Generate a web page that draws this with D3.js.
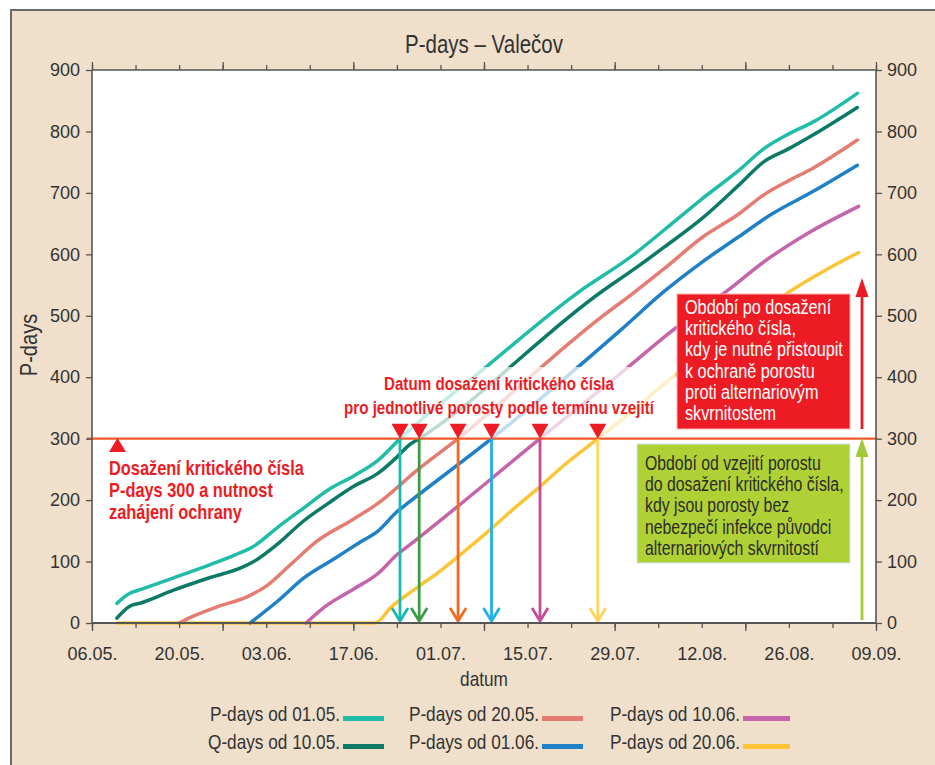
<!DOCTYPE html>
<html><head><meta charset="utf-8">
<script src="https://cdn.jsdelivr.net/npm/d3@7"></script>
<style>
html,body{margin:0;padding:0;background:#fff;}
svg{display:block;}
</style></head>
<body>
<svg id="chart" width="935" height="765"></svg>
<script>
// ---------------- DATA ----------------
const seriesNames = ["P-days od 01.05.", "Q-days od 10.05.", "P-days od 20.05.", "P-days od 01.06.", "P-days od 10.06.", "P-days od 20.06."];
const seriesColors = ["#1fbda8", "#0b7a66", "#e57b71", "#1e80c6", "#c563ab", "#fcc536"];

const dates0105 = ["2021-05-10","2021-05-12","2021-05-14","2021-05-19","2021-05-25","2021-05-29","2021-06-01","2021-06-05","2021-06-09","2021-06-13","2021-06-17","2021-06-21","2021-06-24T12:00","2021-07-08","2021-07-23","2021-08-01","2021-08-06","2021-08-12","2021-08-18","2021-08-22","2021-08-26","2021-08-30","2021-09-06"];
const vals0105  = [32,48,55,73,95,111,125,157,187,217,239,265,300,414,537,599,640,690,737,772,796,816,862];

const dates1005 = ["2021-05-10","2021-05-12","2021-05-14","2021-05-19","2021-05-25","2021-05-30","2021-06-01","2021-06-05","2021-06-09","2021-06-13","2021-06-17","2021-06-21","2021-06-24","2021-06-26","2021-06-27T14:00","2021-07-27","2021-08-01","2021-08-06","2021-08-12","2021-08-18","2021-08-22","2021-08-26","2021-08-30","2021-09-06"];
const vals1005  = [8,27,33,53,74,90,100,130,166,195,222,244,270,290,300,540,575,612,658,713,751,772,795,839];

const dates2005 = ["2021-05-20","2021-05-22","2021-05-26","2021-05-31","2021-06-03","2021-06-07","2021-06-11","2021-06-17","2021-06-21","2021-06-24","2021-06-26","2021-07-03T20:00","2021-07-27","2021-08-01","2021-08-06","2021-08-12","2021-08-18","2021-08-22","2021-08-26","2021-08-30","2021-09-06"];
const vals2005  = [0,10,26,43,60,96,132,169,195,220,238,300,499,537,577,627,666,697,720,741,786];

const dates0106 = ["2021-05-31T10:00","2021-06-05","2021-06-09","2021-06-14","2021-06-18","2021-06-21","2021-06-24","2021-06-26","2021-07-09T05:00","2021-07-30","2021-08-06","2021-08-12","2021-08-18","2021-08-23","2021-08-30","2021-09-06"];
const vals0106  = [0,37,73,105,131,150,181,197,300,477,540,587,629,664,703,745];

const dates1006 = ["2021-06-09T10:00","2021-06-12T12:00","2021-06-17","2021-06-21","2021-06-24","2021-06-26T10:00","2021-07-17","2021-07-31","2021-08-07T10:00","2021-08-16","2021-08-22T10:00","2021-08-29","2021-09-06T05:00"];
const vals1006  = [0,27,55,81,111,130,300,415,477,540,591,634,678];

const dates2006 = ["2021-05-10","2021-06-20T12:00","2021-06-23","2021-06-27","2021-07-01","2021-07-05","2021-07-09","2021-07-13","2021-07-17","2021-07-21","2021-07-26T07:00","2021-07-31","2021-08-07T10:00","2021-08-14","2021-08-20","2021-08-26T05:00","2021-09-01","2021-09-06T05:00"];
const vals2006  = [0,0,25,56,85,118,152,188,222,258,300,338,401,450,495,540,575,603];

// dates when the critical number 300 is reached (one per crop)
const critDates = ["2021-06-24T12:00","2021-06-27T14:00","2021-07-03T20:00","2021-07-09T05:00","2021-07-17","2021-07-26T07:00"];
const critArrowColors = ["#17b9b3", "#3f9a46", "#f26a22", "#20b0e8", "#c54b9d", "#ffd35e"];
const criticalValue = 300;

const xTickLabels = ["06.05.","20.05.","03.06.","17.06.","01.07.","15.07.","29.07.","12.08.","26.08.","09.09."];
const yTicks = [0,100,200,300,400,500,600,700,800,900];

const titleText = "P-days – Valečov";
const yLabel = "P-days";
const xLabel = "datum";
const noteLeft = ["Dosažení kritického čísla","P-days 300 a nutnost","zahájení ochrany"];
const noteTop = ["Datum dosažení kritického čísla","pro jednotlivé porosty podle termínu vzejití"];
const noteRed = ["Období po dosažení","kritického čísla,","kdy je nutné přistoupit","k ochraně porostu","proti alternariovým","skvrnitostem"];
const noteGreen = ["Období od vzejití porostu","do dosažení kritického čísla,","kdy jsou porosty bez","nebezpečí infekce původci","alternariových skvrnitostí"];

// ---------------- DRAW ----------------
const FR = "'Liberation Sans',Arial,sans-serif";
const SX = 0.82;   // condensed look
const TXT = "#333";
const svg = d3.select("#chart");
const parse = s => new Date(s.length === 10 ? s + "T00:00" : s);
const parseLbl = s => { const [d,m] = s.split("."); return new Date(2021, +m-1, +d); };

function ntext(x, y, str, size, o = {}) {
  return svg.append("text")
    .attr("transform", `translate(${x},${y})${o.rotate ? " rotate(" + o.rotate + ")" : ""} scale(${SX},1)`)
    .attr("font-family", FR).attr("font-size", size)
    .attr("font-weight", o.weight || "normal")
    .attr("text-anchor", o.anchor || "start")
    .attr("fill", o.fill || TXT).text(str);
}

// frame
svg.append("rect").attr("x",0).attr("y",0).attr("width",935).attr("height",765).attr("fill","#fff");
svg.append("rect").attr("x",11).attr("y",10).attr("width",930).attr("height",760).attr("fill","#efdfcb")
  .attr("stroke","#6a6a6a").attr("stroke-width",2);

const X0 = 92, X1 = 876, Y0 = 623, Y1 = 70;
const xStart = parseLbl(xTickLabels[0]), xEnd = parseLbl(xTickLabels[xTickLabels.length-1]);
const x = d3.scaleTime().domain([xStart, xEnd]).range([X0, X1]);
const y = d3.scaleLinear().domain([0, 900]).range([Y0, Y1]);

svg.append("rect").attr("x",X0).attr("y",Y1).attr("width",X1-X0).attr("height",Y0-Y1).attr("fill","#fff");

// title & labels
ntext((X0+X1)/2, 53, titleText, 25, {anchor:"middle"});
ntext(37, 345, yLabel, 24.5, {anchor:"middle", rotate:-90});
ntext(484, 686, xLabel, 21, {anchor:"middle"});

// series
const allDates = [dates0105, dates1005, dates2005, dates0106, dates1006, dates2006];
const allVals  = [vals0105, vals1005, vals2005, vals0106, vals1006, vals2006];
const line = d3.line().x(d => x(d[0])).y(d => y(d[1])).curve(d3.curveMonotoneX);
[5,4,3,2,1,0].forEach(i => {
  const pts = allDates[i].map((d,k) => [parse(d), allVals[i][k]]);
  svg.append("path").attr("d", line(pts)).attr("fill","none")
    .attr("stroke", seriesColors[i]).attr("stroke-width",3.5).attr("stroke-linejoin","round").attr("stroke-linecap","round");
});

// translucent backing behind top note
svg.append("rect").attr("x",337).attr("y",367).attr("width",338).attr("height",y(criticalValue)-367)
  .attr("fill","#fff").attr("opacity",0.72);

// critical line
svg.append("line").attr("x1",X0-5).attr("x2",X1).attr("y1",y(criticalValue)).attr("y2",y(criticalValue))
  .attr("stroke","#f05a28").attr("stroke-width",2.2);

// down arrows at the critical dates
critDates.forEach((d,i) => {
  const cx = x(parse(d));
  svg.append("line").attr("x1",cx).attr("x2",cx).attr("y1",y(criticalValue)).attr("y2",y(0)-2)
    .attr("stroke",critArrowColors[i]).attr("stroke-width",2.8);
  svg.append("path").attr("d",`M${cx-8},${y(0)-15} L${cx},${y(0)-2} L${cx+8},${y(0)-15}`)
    .attr("fill","none").attr("stroke",critArrowColors[i]).attr("stroke-width",2.8);
  svg.append("path").attr("d",`M${cx-8.5},${y(criticalValue)-15} L${cx+8.5},${y(criticalValue)-15} L${cx},${y(criticalValue)} Z`)
    .attr("fill","#ed1c24");
});

// axes
const dayMs = 86400000;
const minorDates = d3.range(0, 127, 7).map(k => new Date(xStart.getTime() + k*dayMs));
const longDates = minorDates.filter((d,k) => k % 3 === 0);
const labelDates = xTickLabels.map(parseLbl);
const axisColor = "#555";
function styleAxis(g){ g.select(".domain").remove(); g.selectAll("line").attr("stroke",axisColor).attr("stroke-width",1.3); }

svg.append("g").attr("transform",`translate(0,${Y0})`)
  .call(d3.axisBottom(x).tickValues(minorDates).tickSize(5).tickFormat("")).call(styleAxis);
svg.append("g").attr("transform",`translate(0,${Y0})`)
  .call(d3.axisBottom(x).tickValues(longDates).tickSize(8).tickFormat("")).call(styleAxis);
const xl = svg.append("g").attr("transform",`translate(0,${Y0})`)
  .call(d3.axisBottom(x).tickValues(labelDates).tickSize(0).tickPadding(24).tickFormat(d3.timeFormat("%d.%m.")));
xl.select(".domain").remove();
xl.selectAll("text").attr("font-family",FR).attr("font-size",18).attr("fill",TXT);

svg.append("g").attr("transform",`translate(0,${Y1})`)
  .call(d3.axisTop(x).tickValues(minorDates).tickSize(5).tickFormat("")).call(styleAxis);
svg.append("g").attr("transform",`translate(0,${Y1})`)
  .call(d3.axisTop(x).tickValues(longDates).tickSize(8).tickFormat("")).call(styleAxis);

const yl = svg.append("g").attr("transform",`translate(${X0},0)`)
  .call(d3.axisLeft(y).tickValues(yTicks).tickSize(6).tickPadding(6));
yl.select(".domain").remove();
yl.selectAll("line").attr("stroke",axisColor).attr("stroke-width",1.3);
yl.selectAll("text").attr("font-family",FR).attr("font-size",18).attr("fill",TXT);

const yr = svg.append("g").attr("transform",`translate(${X1},0)`)
  .call(d3.axisRight(y).tickValues(yTicks).tickSize(6).tickPadding(5));
yr.select(".domain").remove();
yr.selectAll("line").attr("stroke",axisColor).attr("stroke-width",1.3);
yr.selectAll("text").attr("font-family",FR).attr("font-size",18).attr("fill",TXT);

// frame lines
svg.append("line").attr("x1",X0).attr("x2",X0).attr("y1",Y1).attr("y2",Y0).attr("stroke",axisColor).attr("stroke-width",1.6);
svg.append("line").attr("x1",X1).attr("x2",X1).attr("y1",Y1).attr("y2",Y0).attr("stroke",axisColor).attr("stroke-width",1.6);
svg.append("line").attr("x1",X0).attr("x2",X1).attr("y1",Y1).attr("y2",Y1).attr("stroke",axisColor).attr("stroke-width",1.3);
svg.append("line").attr("x1",X0).attr("x2",X1).attr("y1",Y0).attr("y2",Y0).attr("stroke",axisColor).attr("stroke-width",2.2);

// left note
svg.append("path").attr("d",`M109,452 L126,452 L117.5,438 Z`).attr("fill","#ed1c24");
noteLeft.forEach((t,i) => ntext(109, 475+i*22, t, 20, {weight:"bold", fill:"#ed1c24"}));

// top note
noteTop.forEach((t,i) => ntext(499, 390+i*23.5, t, 18.5, {weight:"bold", fill:"#ed1c24", anchor:"middle"}));

// red box
svg.append("rect").attr("x",677).attr("y",294).attr("width",173).attr("height",135).attr("fill","#ed1c24")
  .attr("stroke","#f7b5b0").attr("stroke-width",1);
noteRed.forEach((t,i) => ntext(685, 314+i*21.2, t, 19.8, {fill:"#fff"}));
// green box
svg.append("rect").attr("x",637).attr("y",444).attr("width",213).attr("height",119).attr("fill","#afd135")
  .attr("stroke","#cfe8f2").attr("stroke-width",1);
noteGreen.forEach((t,i) => ntext(645, 470+i*21.2, t, 19.3, {fill:"#2b2b2b"}));

// vertical arrows on the right
svg.append("line").attr("x1",862).attr("x2",862).attr("y1",429).attr("y2",294).attr("stroke","#ed1c24").attr("stroke-width",2.8);
svg.append("path").attr("d","M855.5,297 L868.5,297 L862,278 Z").attr("fill","#ed1c24");
svg.append("line").attr("x1",862).attr("x2",862).attr("y1",620).attr("y2",455).attr("stroke","#a2cb3b").attr("stroke-width",2.8);
svg.append("path").attr("d","M855.5,457 L868.5,457 L862,438 Z").attr("fill","#a2cb3b");

// legend
const legCols = [[340,384],[539,583],[740,790]];
seriesNames.forEach((n,i) => {
  const col = Math.floor(i/2), row = i%2;
  const ly = 714 + row*28;
  ntext(legCols[col][0], ly+7, n, 21, {anchor:"end"});
  svg.append("rect").attr("x",legCols[col][0]+3).attr("y",ly+2).attr("width",legCols[col][1]-legCols[col][0]-3).attr("height",5)
    .attr("fill",seriesColors[i]);
});
</script>
</body></html>
